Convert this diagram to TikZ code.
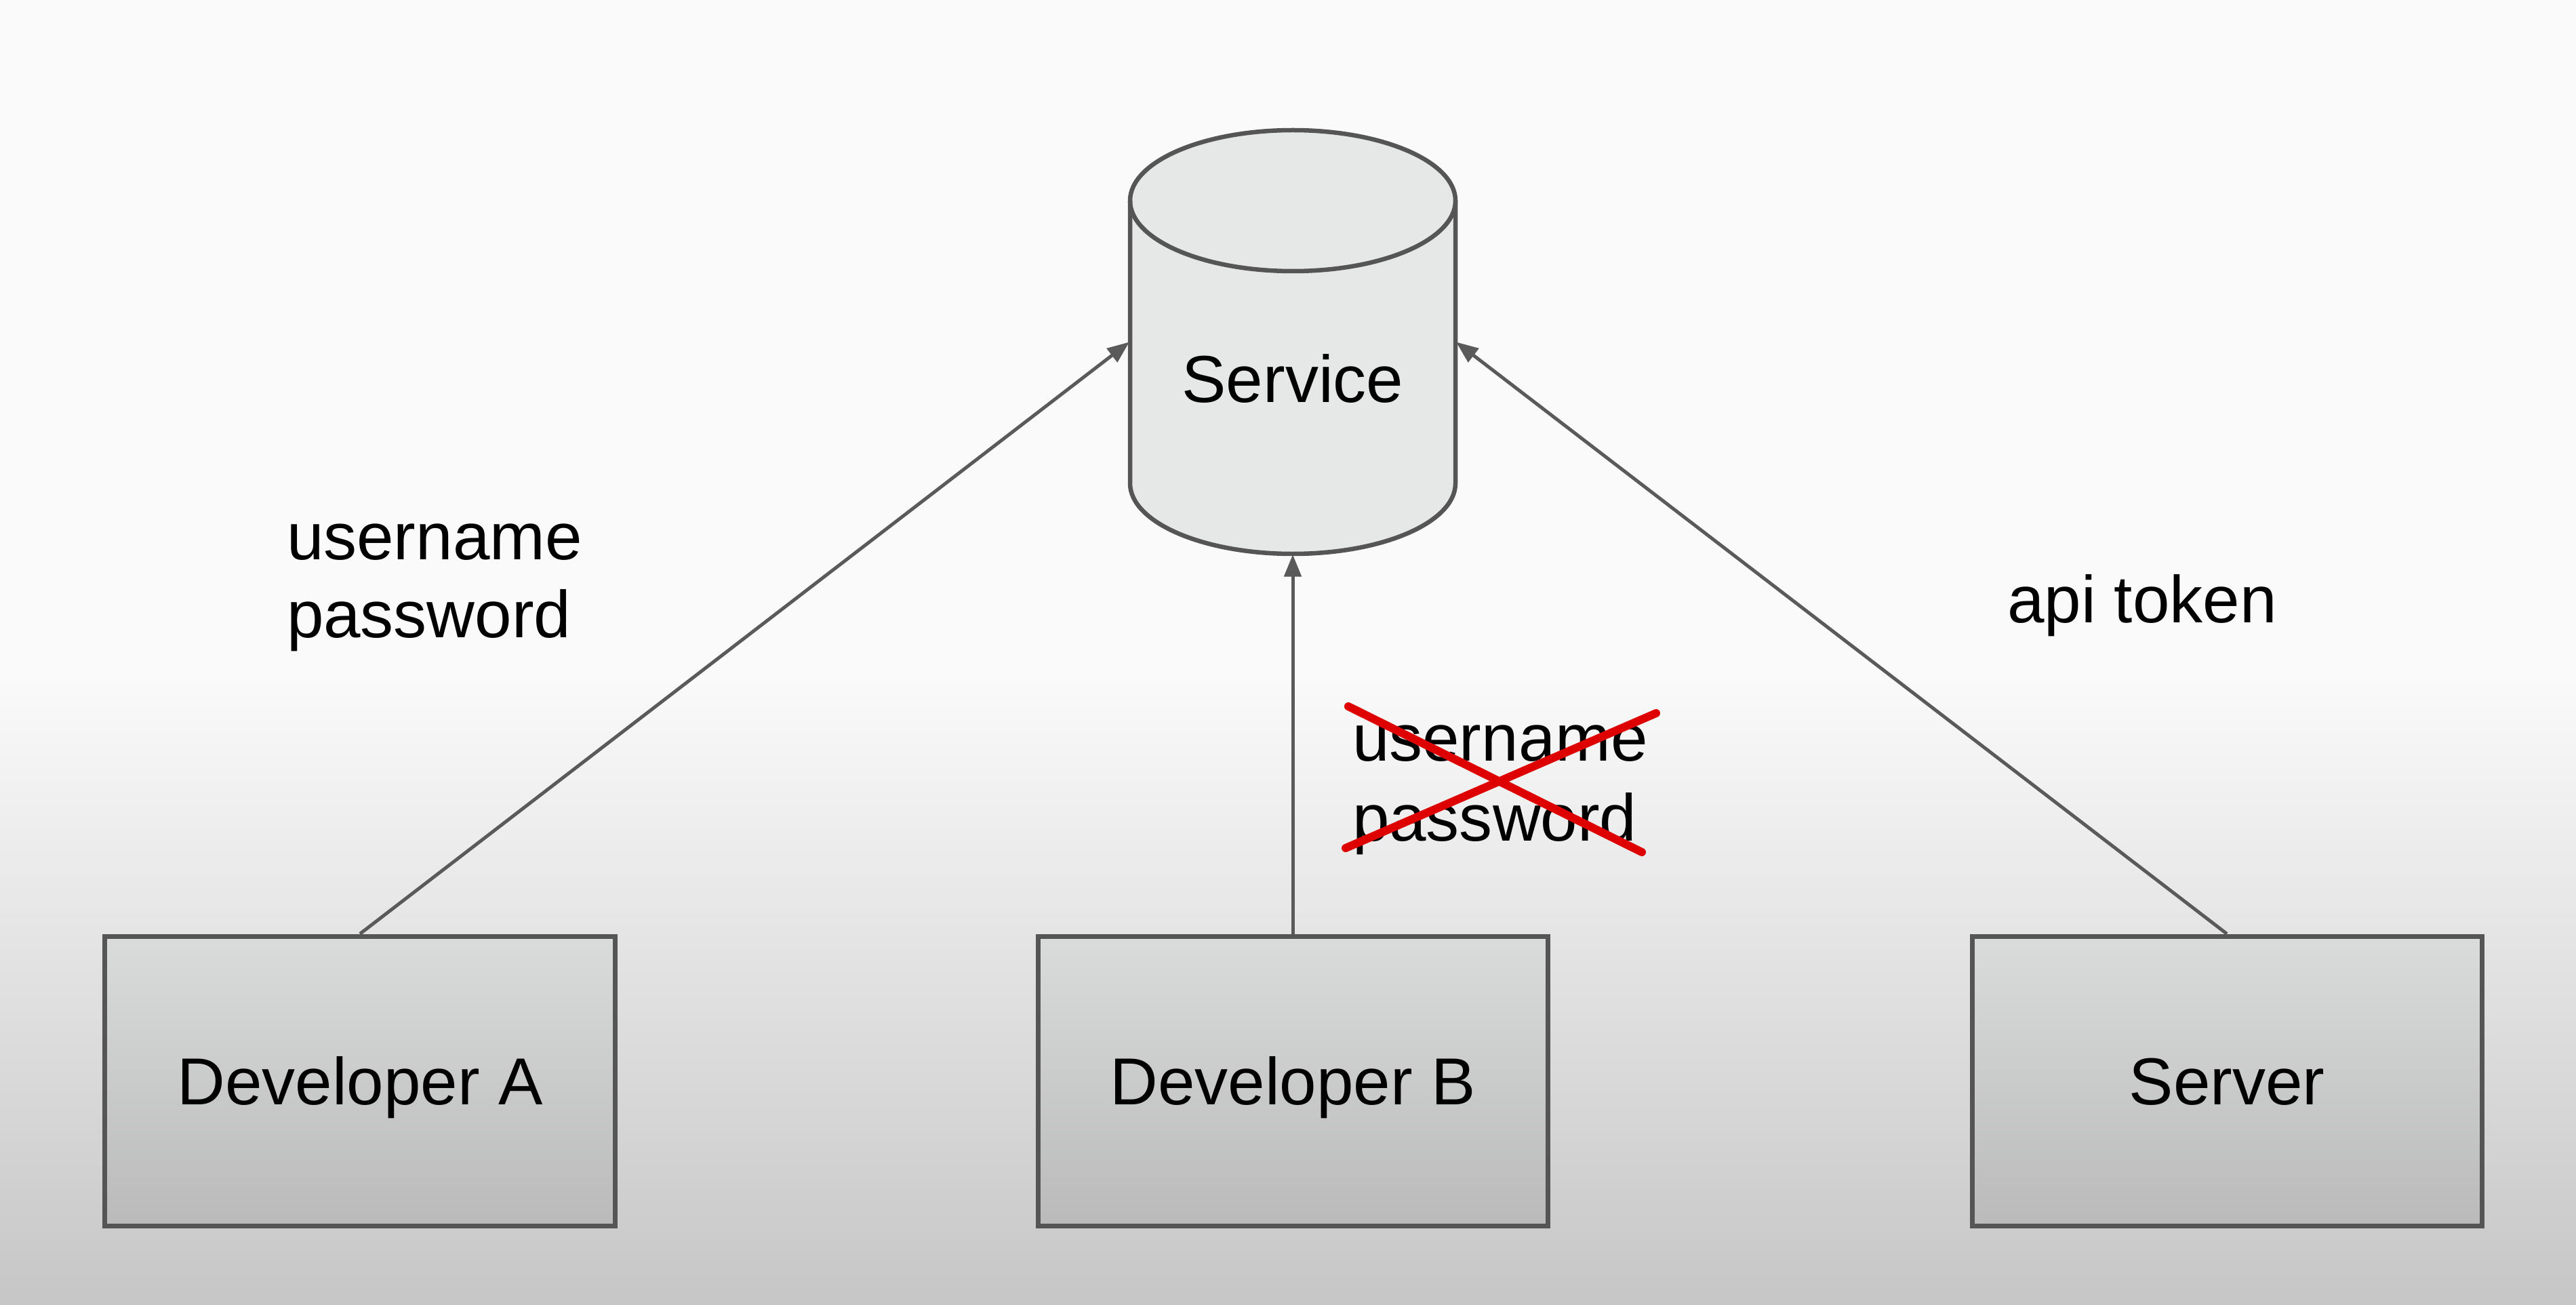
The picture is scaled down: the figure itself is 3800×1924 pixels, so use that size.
\documentclass[tikz,border=0pt]{standalone}
\usepackage{fontspec}
\setmainfont{Liberation Sans}
\usetikzlibrary{arrows.meta}
\definecolor{bgtop}{RGB}{250,250,250}
\definecolor{bgmid}{RGB}{236,237,236}
\definecolor{bgbot}{RGB}{198,198,198}
\definecolor{edge}{RGB}{85,85,85}
\definecolor{conn}{RGB}{90,90,90}
\definecolor{boxtop}{RGB}{218,219,219}
\definecolor{boxbot}{RGB}{186,186,186}
\definecolor{cylfill}{RGB}{230,231,231}
\definecolor{xred}{RGB}{222,0,0}
\tikzset{
  devbox/.style={draw=edge, line width=1.4pt, top color=boxtop, bottom color=boxbot,
    minimum width=150.4pt, minimum height=85.4pt, inner sep=0pt,
    font=\fontsize{19.6}{23}\selectfont, text height=14pt, text depth=0pt},
  lbl/.style={inner sep=0pt, anchor=base west, font=\fontsize{19.6}{23}\selectfont},
  conarrow/.style={draw=conn, line width=1pt, -{Triangle[length=6.5pt,width=5pt]}},
  cross/.style={draw=xred, line width=2.4pt, line cap=round}
}
\begin{document}
\begin{tikzpicture}[x=0.2pt,y=0.2pt]
\useasboundingbox (0,0) rectangle (3800,1924);
% background
\fill[bgtop] (0,924) rectangle (3800,1924);
\shade[top color=bgtop, middle color=bgmid, bottom color=bgbot] (0,0) rectangle (3800,925);
% cylinder (Service)
\fill[cylfill] (1667,1628) -- (1667,1211)
  arc[start angle=180, end angle=360, x radius=240, y radius=104]
  -- (2147,1628)
  arc[start angle=0, end angle=180, x radius=240, y radius=104] -- cycle;
\draw[edge, line width=1.3pt] (1667,1628) -- (1667,1211)
  arc[start angle=180, end angle=360, x radius=240, y radius=104]
  -- (2147,1628);
\draw[edge, line width=1.3pt] (1907,1628) ellipse [x radius=240, y radius=104];
\node[minimum width=96pt, minimum height=125pt, inner sep=0pt] (svc) at (1907,1419.5) {};
\node[inner sep=0pt, anchor=base, font=\fontsize{19.6}{23}\selectfont] (svctext) at (1907,1330) {Service};
% boxes
\node[devbox] (devA) at (531,329.5) {Developer A};
\node[devbox] (devB) at (1907,329.5) {Developer B};
\node[devbox] (srv) at (3285,329.5) {Server};
% connectors
\draw[conarrow] (devA.north) -- (svc.west);
\draw[conarrow] (devB.north) -- (svc.south);
\draw[conarrow] (srv.north) -- (svc.east);
% labels
\node[lbl] (la1) at (422,1099) {username};
\node[lbl] (la2) at (422,984) {password};
\node[lbl] (lb1) at (1994,802) {username};
\node[lbl] (lb2) at (1994,684) {password};
\node[lbl] (lc) at (2960,1006) {api token};
% red cross
\draw[cross] (1989,882) -- (2422,667);
\draw[cross] (1985,673) -- (2443,872);
\end{tikzpicture}
\end{document}
